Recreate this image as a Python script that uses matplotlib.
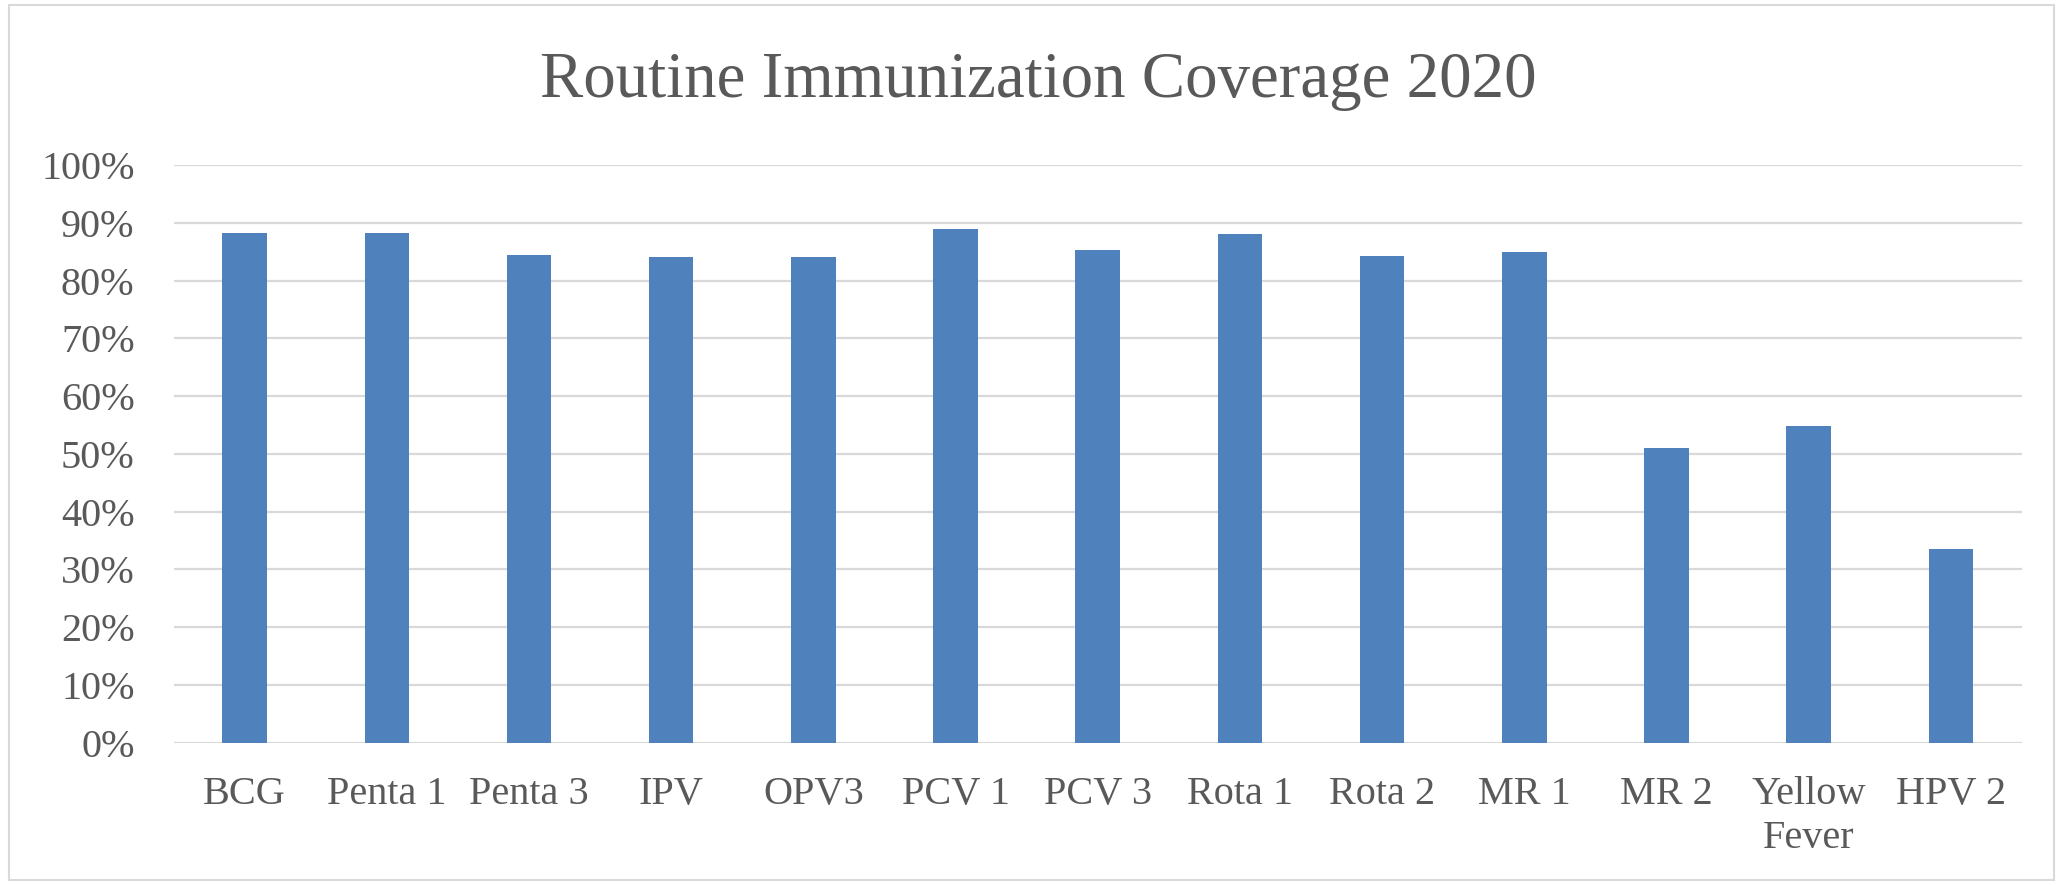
import matplotlib
matplotlib.use("Agg")
import matplotlib.pyplot as plt
from matplotlib.patches import Rectangle
from matplotlib.ticker import FuncFormatter

categories = ["BCG", "Penta 1", "Penta 3", "IPV", "OPV3", "PCV 1", "PCV 3",
              "Rota 1", "Rota 2", "MR 1", "MR 2", "Yellow\nFever", "HPV 2"]
coverage = [0.883, 0.883, 0.845, 0.840, 0.840, 0.889, 0.852,
            0.880, 0.842, 0.849, 0.510, 0.549, 0.336]
y_ticks = [0.0, 0.1, 0.2, 0.3, 0.4, 0.5, 0.6, 0.7, 0.8, 0.9, 1.0]
title = "Routine Immunization Coverage 2020"

W, H = 2061, 885
fig = plt.figure(figsize=(W / 100, H / 100), dpi=100)
fig.patch.set_facecolor("white")
plt.rcParams['font.family'] = ['Liberation Serif', 'DejaVu Serif']

text_color = "#595959"
grid_color = "#d9d9d9"
bar_color = "#4f81bd"

left, right = 173.5 / W, 2022 / W
bottom, top = 1 - 742.7 / H, 1 - 165 / H
ax = fig.add_axes([left, bottom, right - left, top - bottom])

x = list(range(len(categories)))
ax.bar(x, coverage, width=0.313, color=bar_color, zorder=3)
ax.set_xlim(-0.5, len(categories) - 0.5)
ax.set_ylim(0, 1.0)
ax.set_yticks(y_ticks)
ax.yaxis.set_major_formatter(FuncFormatter(lambda v, p: f"{v*100:.0f}%"))
ax.set_xticks(x)
ax.set_xticklabels(categories, linespacing=1.25)

ax.grid(axis="y", color=grid_color, linewidth=1.6, zorder=0)
ax.set_axisbelow(True)
for s in ax.spines.values():
    s.set_visible(False)
ax.tick_params(axis="both", length=0, labelsize=29, labelcolor=text_color)
ax.tick_params(axis="y", pad=28)
ax.tick_params(axis="x", pad=24)

fig.text(1038 / W, 1 - 97 / H, title, ha="center", va="baseline",
         fontsize=46.7, color=text_color)

# chart border
fig.patches.append(Rectangle((9 / W, 5 / H), (2054 - 9) / W, (880 - 5) / H,
                             transform=fig.transFigure, fill=False,
                             edgecolor="#d9d9d9", linewidth=1.5))

fig.savefig("out.png", dpi=100, facecolor="white")
